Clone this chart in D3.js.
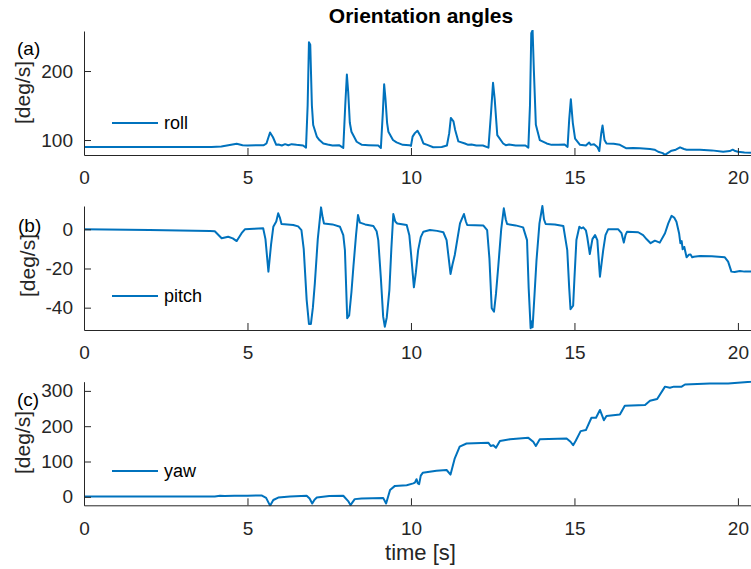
<!DOCTYPE html>
<html><head><meta charset="utf-8">
<script src="https://cdn.jsdelivr.net/npm/d3@7"></script>
<style>
html,body{margin:0;padding:0;background:#fff;}
svg{display:block;font-family:"Liberation Sans",Arial,Helvetica,sans-serif;}
</style></head>
<body><svg id="c" width="751" height="569"></svg>
<script>
const xTicks = [0, 5, 10, 15, 20];
const seriesNames = ["roll", "pitch", "yaw"];
const panelLabels = ["(a)", "(b)", "(c)"];
const rollTicks = [100, 200];
const pitchTicks = [-40, -20, 0];
const yawTicks = [0, 100, 200, 300];

const rollT = [0,1,2,3,3.9,4.2,4.5,4.67,4.85,5.0,5.3,5.5,5.58,5.69,5.78,5.88,5.95,6.05,6.15,6.25,6.35,6.5,6.7,6.79,6.84,6.88,6.92,6.97,7.01,7.12,7.2,7.32,7.45,7.6,7.8,7.93,7.99,8.04,8.08,8.13,8.18,8.34,8.5,8.7,9.0,9.08,9.14,9.18,9.22,9.27,9.31,9.45,9.56,9.75,9.95,10.0,10.05,10.12,10.2,10.3,10.38,10.5,10.68,10.94,11.1,11.17,11.22,11.3,11.35,11.45,11.65,11.75,11.85,12.0,12.2,12.37,12.45,12.51,12.56,12.64,12.82,12.9,13.0,13.2,13.5,13.59,13.64,13.68,13.72,13.76,13.82,13.94,14.15,14.3,14.5,14.7,14.79,14.84,14.89,14.95,15.02,15.17,15.35,15.45,15.5,15.6,15.7,15.76,15.82,15.86,15.92,15.98,16.2,16.39,16.59,16.8,17.0,17.31,17.45,17.56,17.7,17.77,17.85,17.97,18.1,18.23,18.35,18.43,18.84,19.2,19.55,19.75,19.84,19.92,20.0,20.2,20.4];
const rollV = [90,90,90,90,90,90.5,93,94.5,92.5,92,92.5,92.5,95,111,104,93,93.5,92,94,92.5,94,93,92,89,150,241.6,238,150,121.7,105,100,95,93.5,92,92.5,88.5,150,195,170,125,112,97.5,93,92.5,92,88.5,140,180.7,160,125,112,100,96.6,93,92.5,91.5,105,110,113.5,105,95,93,89.5,90,92,110,132,127,115,98,95,93,93.5,92,92,89,140,183,160,107,95,92.5,93.5,92,92,89,150,255,259,200,122,100,95,93,93,93.5,90,130,159,125,102,93,92,96.5,93,94,90,84,110,121,100,95,94.5,93,88,88.5,88,87,86,83,81,78.5,81,84.5,86,89.4,87,86,86,85,83,84,86,84,83,82,81.5];

const pitchT = [0,2,3.85,4.0,4.21,4.41,4.55,4.67,4.82,4.92,5.2,5.48,5.55,5.64,5.72,5.79,5.88,5.94,5.99,6.04,6.4,6.55,6.65,6.72,6.81,6.88,6.94,7.0,7.06,7.15,7.25,7.3,7.34,7.6,7.83,7.93,7.98,8.05,8.11,8.18,8.24,8.32,8.38,8.44,8.6,8.85,8.95,9.0,9.08,9.15,9.2,9.26,9.34,9.40,9.46,9.52,9.58,9.87,9.95,10.0,10.09,10.15,10.22,10.3,10.38,10.58,10.8,10.99,11.09,11.21,11.27,11.34,11.42,11.5,11.56,11.62,11.68,11.72,12.21,12.33,12.4,12.47,12.54,12.6,12.67,12.76,12.84,12.9,12.94,13.2,13.43,13.55,13.6,13.66,13.69,13.72,13.78,13.84,13.93,14.02,14.07,14.12,14.4,14.66,14.78,14.84,14.88,14.96,15.0,15.06,15.15,15.21,15.27,15.35,15.39,15.47,15.55,15.63,15.70,15.78,15.88,15.95,16.03,16.34,16.44,16.51,16.56,16.61,16.95,17.1,17.21,17.33,17.46,17.61,17.77,17.87,17.97,18.05,18.12,18.2,18.24,18.28,18.31,18.36,18.43,18.5,18.55,18.6,18.65,18.84,19.2,19.6,19.7,19.8,19.9,20.06,20.2,20.4];
const pitchV = [0,-0.3,-0.9,-1,-4.6,-3.8,-4.6,-6,-2,0,0.3,0.5,-5,-21.6,-8,1.3,4,8.2,6,2.7,2.2,1.5,-0.4,-10,-36,-48.3,-48.3,-40,-27.6,-5,11.2,6,3,2.5,1.3,-3,-10.6,-45.4,-44,-32,-19,-3,7.3,3.4,2.5,1.7,-1,-5.5,-25,-44.6,-49.7,-45,-31,-10,7.8,4,3,2.2,-3,-12,-29.6,-22,-10.6,-4,-1.2,-0.4,-0.8,-1.5,-5.5,-22.8,-18,-13.1,-5,3,5.5,7.8,4,2.2,2,-0.4,-15,-40.3,-42,-33,-19,0,10.7,5,2.7,2,1,-5.5,-30,-50.5,-47,-50,-33,-15.7,3,11.9,5,2.7,2.5,1.7,-10.6,-30,-40.8,-39,-25,-5.5,1.3,0.5,1,-0.5,-3.8,-12.6,-5,-2.9,-5.5,-24.2,-10.6,-3,0,0,-2,-6.8,-3,-1.2,-1.5,-3,-5.1,-7.1,-5.8,-6.8,-2,3,6.9,6,3.9,-2,-7.1,-6,-10.2,-9,-14.3,-13,-12.8,-14.3,-14,-13.6,-13.8,-14.3,-16.5,-21.6,-21.8,-21.3,-21.6,-21.6];

const yawT = [0,2,4.0,4.16,4.3,4.6,5.0,5.43,5.57,5.69,5.79,5.94,6.3,6.81,6.9,6.98,7.05,7.12,7.5,7.93,8.08,8.15,8.28,8.49,9.15,9.24,9.3,9.36,9.51,9.87,10.07,10.12,10.17,10.21,10.25,10.3,10.36,10.78,11.09,11.21,11.34,11.49,11.70,12.37,12.44,12.52,12.60,12.72,13.03,13.59,13.74,13.82,13.94,14.76,14.88,14.96,15.04,15.19,15.35,15.52,15.66,15.78,15.90,15.98,16.39,16.54,17.16,17.31,17.53,17.77,17.92,18.04,18.28,18.38,19.14,19.70,20.4];
const yawV = [1,1,1,3,2,3,3,4,-3,-25,-9,-2,1,3,-5,-19,-8,-2,2,3,-12,-23.5,-6.5,-4.5,-3,-19,0,19,31,33,38,40,50,38,36,60,68,74,76,63,109,142,151,153,144,146,139,158,163,167,156,144,163,165,156,146,159,186,189,224,224,246,217,229,233,258,260,272,277,312,309,312,312,318,321,321,326];

const svg = d3.select("#c");
const AX = "#262626", LINE = "#0072BD";
const FONT = "Liberation Sans, Arial, sans-serif";
const x = d3.scaleLinear().domain([0, 20.4]).range([84, 751]);

const panels = [
  {name: seriesNames[0], lab: panelLabels[0], t: rollT, v: rollV, ticks: rollTicks, dom: [78.3, 258], rng: [155, 31], labPos: [17, 55], ylPos: [22.5, 92.5], legY: 123},
  {name: seriesNames[1], lab: panelLabels[1], t: pitchT, v: pitchV, ticks: pitchTicks, dom: [-51.4, 11.9], rng: [330, 206], labPos: [18, 232], ylPos: [27.5, 265.5], legY: 296},
  {name: seriesNames[2], lab: panelLabels[2], t: yawT, v: yawV, ticks: yawTicks, dom: [-24, 326], rng: [505.3, 381.7], labPos: [17, 406], ylPos: [22.5, 442.5], legY: 471}
];

panels.forEach((p, i) => {
  const y = d3.scaleLinear().domain(p.dom).range(p.rng);
  const g = svg.append("g");
  const cid = "clip" + i;
  svg.append("clipPath").attr("id", cid).append("rect")
    .attr("x", 84).attr("y", p.rng[1] - 1).attr("width", 751 - 84).attr("height", p.rng[0] - p.rng[1] + 2);
  const data = p.t.map((t, k) => [t, p.v[k]]);
  g.append("path").datum(data)
    .attr("clip-path", `url(#${cid})`)
    .attr("fill", "none").attr("stroke", LINE).attr("stroke-width", 2)
    .attr("stroke-linejoin", "round")
    .attr("d", d3.line().x(d => x(d[0])).y(d => y(d[1])));

  // x axis (ticks inward)
  const xa = g.append("g").attr("transform", `translate(0,${p.rng[0]})`)
    .call(d3.axisBottom(x).tickValues(xTicks).tickFormat(d => String(d)).tickSizeInner(-7).tickSizeOuter(0).tickPadding(16));
  xa.select(".domain").attr("stroke", AX);
  xa.selectAll(".tick line").attr("stroke", AX);
  xa.selectAll(".tick text").attr("fill", AX).attr("font-size", 19).attr("font-family", FONT);

  // y axis (ticks inward)
  const ya = g.append("g").attr("transform", `translate(84,0)`)
    .call(d3.axisLeft(y).tickValues(p.ticks).tickFormat(d => String(d)).tickSizeInner(-7).tickSizeOuter(0).tickPadding(11));
  ya.select(".domain").attr("stroke", AX);
  ya.selectAll(".tick line").attr("stroke", AX);
  ya.selectAll(".tick text").attr("fill", AX).attr("font-size", 19).attr("font-family", FONT);

  // y label
  g.append("text").attr("transform", `translate(${p.ylPos[0]},${p.ylPos[1]}) rotate(-90)`)
    .attr("text-anchor", "middle").attr("dy", "0.35em")
    .attr("font-size", 21).attr("fill", AX).text("[deg/s]");
  // panel label
  g.append("text").attr("x", p.labPos[0]).attr("y", p.labPos[1])
    .attr("font-size", 19).attr("fill", "#000").text(p.lab);
  // legend
  g.append("line").attr("x1", 112).attr("x2", 158).attr("y1", p.legY).attr("y2", p.legY)
    .attr("stroke", LINE).attr("stroke-width", 2);
  g.append("text").attr("x", 164).attr("y", p.legY).attr("dy", "0.35em")
    .attr("font-size", 18).attr("fill", "#000").text(p.name);
});

svg.append("text").attr("x", 421).attr("y", 23).attr("text-anchor", "middle")
  .attr("font-size", 21).attr("font-weight", "bold").attr("fill", "#000").text("Orientation angles");
svg.append("text").attr("x", 420.5).attr("y", 560).attr("text-anchor", "middle")
  .attr("font-size", 22).attr("fill", AX).text("time [s]");
</script></body></html>
